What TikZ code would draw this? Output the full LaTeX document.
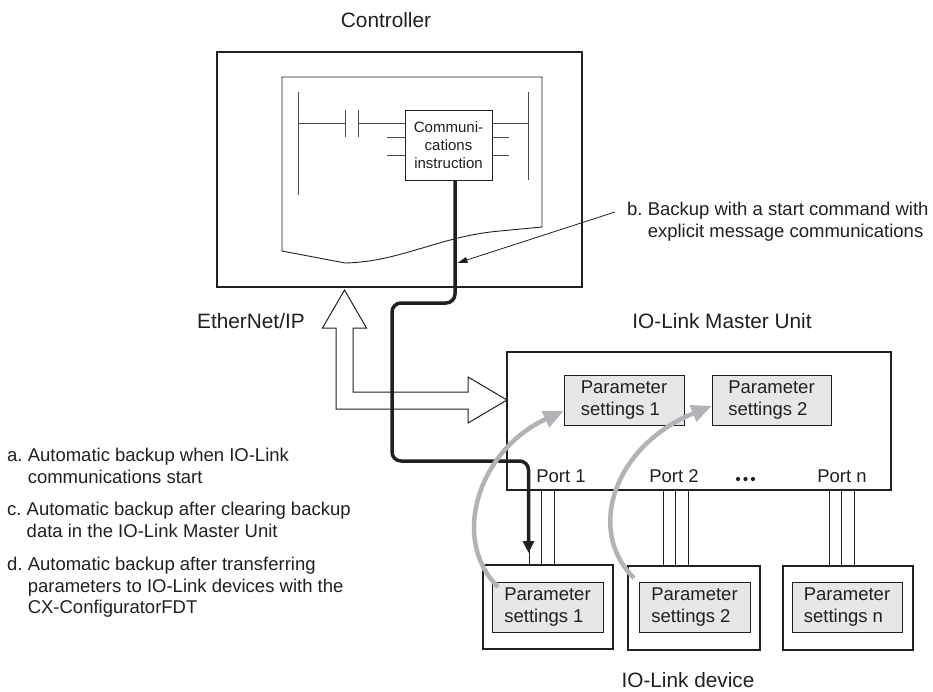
\documentclass[tikz,border=0pt]{standalone}
\usepackage{fontspec}
\setmainfont{Liberation Sans}
\usetikzlibrary{arrows.meta,calc}
\definecolor{txt}{HTML}{231F20}
\definecolor{pfill}{HTML}{E6E7E8}
\definecolor{garrow}{HTML}{B1B3B6}
\newcommand{\mybody}{\fontsize{18.5}{21.5}\selectfont}
\newcommand{\mytitle}{\fontsize{20.8}{24}\selectfont}
\newcommand{\mysmall}{\fontsize{15}{18.2}\selectfont}
\frenchspacing
\begin{document}
\begin{tikzpicture}[x=1pt,y=-1pt,
  every node/.style={text=txt, inner sep=0pt},
  outerbox/.style={draw=txt, line width=1.4pt},
  parbox/.style={draw=txt, line width=0.9pt, fill=pfill, minimum height=50pt, align=left, font=\mybody},
  devbox/.style={draw=txt, line width=1.4pt, minimum height=84pt},
  wire/.style={draw=txt, line width=0.8pt},
  ladder/.style={draw=black!70, line width=1pt},
  bus/.style={draw=txt, line width=3.5pt, -{Triangle[length=12pt,width=11pt]}},
  backarrow/.style={draw=garrow, line width=4.5pt, -{Triangle[length=20pt,width=17pt]}},
  title/.style={font=\mytitle},
  body/.style={font=\mybody, align=left},
]
\useasboundingbox (0,0) rectangle (933,691);

% Controller
\node[outerbox, minimum width=365pt, minimum height=235pt] (ctrl) at (399.5,169.5) {};
\node[title, anchor=base] (ctrltitle) at (386,27) {Controller};

% paper sheet
\draw[draw=txt, line width=0.9pt] (542,227) -- (542,77) -- (282,77) -- (282,251) -- (345,263)
  .. controls (400,262) and (440,236) .. (500,231) -- cycle;

% ladder
\draw[ladder] (298,92) -- (298,195);
\draw[ladder] (528,92) -- (528,180);
\draw[ladder] (298,123) -- (345,123);
\draw[ladder] (345,110) -- (345,137);
\draw[ladder] (358,110) -- (358,137);
\draw[ladder] (358,123) -- (405,123);
\draw[ladder] (387,137) -- (405,137);
\draw[ladder] (387,155) -- (405,155);
\draw[ladder] (492,123) -- (528,123);
\draw[ladder] (492,137) -- (509,137);
\draw[ladder] (492,155) -- (509,155);
\node[draw=txt, line width=0.9pt, fill=white, minimum width=87pt, minimum height=70pt,
      align=center, font=\mysmall] (comm) at (448.5,145) {Communi-\\cations\\instruction};

% Master unit
\node[outerbox, minimum width=384pt, minimum height=138pt] (master) at (699,421) {};
\node[title, anchor=base] (mtitle) at (722,328) {IO-Link Master Unit};
\node[parbox, minimum width=120pt] (mp1) at (624,400) {Parameter\\settings 1};
\node[parbox, minimum width=119pt] (mp2) at (771.5,400) {Parameter\\settings 2};

\node[font=\mybody, anchor=base] (port1) at (561,482) {Port 1};
\node[font=\mybody, anchor=base] (port2) at (674,482) {Port 2};
\node[font=\mybody, anchor=base] (portn) at (842,482) {Port n};
\foreach \xx in {738,745.5,753} \fill[txt] (\xx,479) circle (2.1pt);

% Devices
\node[devbox, minimum width=130pt] (d1) at (548,607) {};
\node[devbox, minimum width=132pt] (d2) at (694,608) {};
\node[devbox, minimum width=130pt] (dn) at (848,608) {};
\node[parbox, minimum width=111pt] (dp1) at (547.5,607) {Parameter\\settings 1};
\node[parbox, minimum width=111pt] (dp2) at (694.5,607) {Parameter\\settings 2};
\node[parbox, minimum width=110pt] (dpn) at (847,607) {Parameter\\settings n};
\node[title, anchor=base] (dtitle) at (688,687) {IO-Link device};

% wires
\foreach \xx/\dv in {529/d1,541.5/d1,554/d1,663/d2,675.5/d2,688/d2,829/dn,841.5/dn,854/dn}{
  \coordinate (w) at (\xx,0);
  \draw[wire] (w |- master.south) -- (w |- \dv.north);
}

% EtherNet/IP hollow double arrow
\coordinate (ethup) at (344.5,290);
\coordinate (ethtip) at (507,400);
\draw[draw=txt, line width=1pt, fill=white] (ethup) -- (366.5,328) -- (353,328) -- (353,392)
  -- (468,392) -- (468,377) -- (ethtip) -- (468,423) -- (468,409) -- (336,409)
  -- (336,328) -- (322.5,328) -- cycle;
\node[title, anchor=base west] (eth) at (197,328) {EtherNet/IP};

% explicit message path
\coordinate (t1) at (455,303);
\coordinate (t2) at (392,461);
\coordinate (t3) at (528.5,553);
\draw[bus] (comm.south -| t1) [rounded corners=9pt] -- (t1) -| (t2) -- (t2 -| t3) [rounded corners=18pt] -- (t3);

% gray backup arrows
\draw[backarrow] (498,587) .. controls (450,540) and (478,450) .. ($(mp1.west)+(0,11)$);
\draw[backarrow] (634,578) .. controls (585,530) and (615,445) .. ($(mp2.west)+(0,6)$);

% label b with leader
\node[body, anchor=north west] (blab) at (627,202) {b. Backup with a start command with\\\hphantom{b.\ }explicit message communications};
\coordinate (bstart) at (615,212);
\coordinate (btip) at (457.5,263);
\draw[draw=txt, line width=0.8pt, -{Triangle[length=10pt,width=6pt]}] (bstart) -- (btip);

% left notes
\node[body, anchor=north west] (na) at (7,448) {a. Automatic backup when IO-Link\\\hphantom{a.\ }communications start};
\node[body, anchor=north west] (nc) at (7,502) {c. Automatic backup after clearing backup\\\hphantom{c.\ }data in the IO-Link Master Unit};
\node[body, anchor=north west] (nd) at (7,557) {d. Automatic backup after transferring\\\hphantom{d.\ }parameters to IO-Link devices with the\\\hphantom{d.\ }CX-ConfiguratorFDT};
\end{tikzpicture}
\end{document}
